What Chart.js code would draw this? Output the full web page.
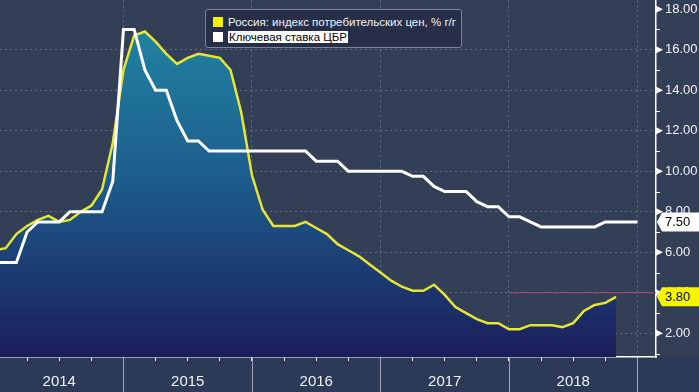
<!DOCTYPE html>
<html lang="ru">
<head>
  <meta charset="UTF-8" />
  <title>Россия: ИПЦ и ключевая ставка</title>
  <script src="https://cdn.jsdelivr.net/npm/chart.js"></script>
  <style>
    body { margin: 0; background: #333e57; }
    #wrap { position: relative; width: 699px; height: 392px; }
    #legend {
      position: absolute; left: 205px; top: 9px; width: 255px; height: 37px;
      background: #262f47; border: 1px solid #7c8696; border-radius: 3px;
      font: 11.5px 'Liberation Sans', Arial, sans-serif; color: #f0f2f5;
    }
    #legend .row { position: absolute; left: 7px; height: 13px; line-height: 13px; white-space: nowrap; }
    #legend .sw { display: inline-block; width: 10px; height: 10px; vertical-align: -1px; margin-right: 5px; }
    #legend .hl { background: #fff; color: #000; padding: 0 1px; }
  </style>
</head>
<body>
  <div id="wrap">
    <canvas id="chart"></canvas>
    <div id="legend">
      <div class="row" style="top:6px"><span class="sw" style="background:#f2f200"></span>Россия: индекс потребительских цен, % г/г</div>
      <div class="row" style="top:21px"><span class="sw" style="background:#fff"></span><span class="hl">Ключевая ставка ЦБР</span></div>
    </div>
  </div>

  <script>
    // месяц 0 = январь 2014
    const years = ['2014', '2015', '2016', '2017', '2018'];

    // ИПЦ, % г/г, янв 2014 – ноя 2018
    const cpi = [
      6.1, 6.2, 6.9, 7.3, 7.6, 7.8, 7.5, 7.6, 8.0, 8.3, 9.1, 11.4,
      15.0, 16.7, 16.9, 16.4, 15.8, 15.3, 15.6, 15.8, 15.7, 15.6, 15.0, 12.9,
      9.8, 8.1, 7.3, 7.3, 7.3, 7.5, 7.2, 6.9, 6.4, 6.1, 5.8, 5.4,
      5.0, 4.6, 4.3, 4.1, 4.1, 4.4, 3.9, 3.3, 3.0, 2.7, 2.5, 2.5,
      2.2, 2.2, 2.4, 2.4, 2.4, 2.3, 2.5, 3.1, 3.4, 3.5, 3.8
    ];

    // ключевая ставка, %, янв 2014 – янв 2019
    const keyRate = [
      5.5, 5.5, 5.5, 7.0, 7.5, 7.5, 7.5, 8.0, 8.0, 8.0, 8.0, 9.5,
      17, 17, 15, 14, 14, 12.5, 11.5, 11.5, 11, 11, 11, 11,
      11, 11, 11, 11, 11, 11, 10.5, 10.5, 10.5, 10, 10, 10,
      10, 10, 10, 9.75, 9.75, 9.25, 9, 9, 9, 8.5, 8.25, 8.25,
      7.75, 7.75, 7.5, 7.25, 7.25, 7.25, 7.25, 7.25, 7.25, 7.5, 7.5, 7.5,
      7.5
    ];

    // цель ЦБ по инфляции
    const targetValue = 4;
    const targetFrom = 48;

    const xMin = 0.47, xMax = 61.73;
    const yMin = 0.83, yMax = 18.44;

    const gridColor = 'rgba(150,168,195,0.45)';
    const fontAxis = "'Liberation Sans', Arial, sans-serif";

    const toPoints = arr => arr.map((v, i) => ({ x: i, y: v }));

    // фон и нижняя полоса
    const backdrop = {
      id: 'backdrop',
      beforeDraw(chart) {
        const { ctx, chartArea, width, height } = chart;
        ctx.save();
        ctx.fillStyle = '#333e57';
        ctx.fillRect(0, 0, width, height);
        ctx.fillStyle = '#2c3a57';
        ctx.fillRect(0, chartArea.bottom, width, height - chartArea.bottom);
        ctx.restore();
      }
    };

    // маркеры оси, разделители лет, плашки последних значений
    const extras = {
      id: 'extras',
      afterDraw(chart) {
        const { ctx, chartArea, height } = chart;
        const xs = chart.scales.x, ys = chart.scales.y;
        const ax = chartArea.right;
        ctx.save();

        for (let m = 0; m <= 60; m += 12) {
          const px = Math.round(xs.getPixelForValue(m)) + 0.5;
          ctx.strokeStyle = '#9aa3b4';
          ctx.lineWidth = 1;
          ctx.beginPath();
          ctx.moveTo(px, chartArea.bottom + 1);
          ctx.lineTo(px, height);
          ctx.stroke();
        }

        ctx.fillStyle = '#fff';
        ctx.strokeStyle = '#fff';
        for (let v = 1; v <= 18; v++) {
          const py = ys.getPixelForValue(v);
          if (v % 2 === 0) {
            ctx.beginPath();
            ctx.moveTo(ax, py - 3.5);
            ctx.lineTo(ax + 7, py);
            ctx.lineTo(ax, py + 3.5);
            ctx.closePath();
            ctx.fill();
          } else {
            ctx.beginPath();
            ctx.moveTo(ax, Math.round(py) + 0.5);
            ctx.lineTo(ax + 4, Math.round(py) + 0.5);
            ctx.stroke();
          }
        }

        const tag = (value, bg) => {
          const py = ys.getPixelForValue(value);
          ctx.fillStyle = bg;
          ctx.beginPath();
          ctx.moveTo(ax + 1, py);
          ctx.lineTo(ax + 6, py - 9.5);
          ctx.lineTo(chart.width, py - 9.5);
          ctx.lineTo(chart.width, py + 9.5);
          ctx.lineTo(ax + 6, py + 9.5);
          ctx.closePath();
          ctx.fill();
          ctx.fillStyle = '#000';
          ctx.font = '13px ' + fontAxis;
          ctx.textBaseline = 'middle';
          ctx.fillText(value.toFixed(2), ax + 9, py + 1);
        };
        tag(keyRate[keyRate.length - 1], '#ffffff');
        tag(cpi[cpi.length - 1], '#f5f500');

        ctx.restore();
      }
    };

    new Chart(document.getElementById('chart'), {
      type: 'line',
      data: {
        datasets: [
          {
            label: 'Ключевая ставка ЦБР',
            data: toPoints(keyRate),
            borderColor: '#ffffff',
            borderWidth: 3,
            pointRadius: 0,
            tension: 0,
            order: 0
          },
          {
            label: 'Цель',
            data: [{ x: targetFrom, y: targetValue }, { x: xMax, y: targetValue }],
            borderColor: '#a2506e',
            borderWidth: 1,
            pointRadius: 0,
            order: 1
          },
          {
            label: 'Россия: индекс потребительских цен, % г/г',
            data: toPoints(cpi),
            borderColor: '#e6e633',
            borderWidth: 2.5,
            pointRadius: 0,
            tension: 0,
            fill: 'origin',
            backgroundColor: ctx => {
              const area = ctx.chart.chartArea;
              if (!area) return '#1d5a8c';
              const g = ctx.chart.ctx.createLinearGradient(0, area.top, 0, area.bottom);
              g.addColorStop(0, '#2089a4');
              g.addColorStop(0.5, '#1d5d8d');
              g.addColorStop(1, '#1b1d5b');
              return g;
            },
            order: 2
          }
        ]
      },
      options: {
        responsive: true,
        maintainAspectRatio: false,
        animation: false,
        layout: { padding: 0 },
        plugins: {
          legend: { display: false },
          tooltip: { enabled: false }
        },
        scales: {
          x: {
            type: 'linear',
            min: xMin,
            max: xMax,
            z: 1,
            afterBuildTicks: s => {
              const t = [];
              for (let m = 3; m <= 60; m += 3) t.push({ value: m });
              s.ticks = t;
            },
            afterFit: s => { s.height = 35; },
            grid: {
              color: c => (c.tick && c.tick.value % 12 === 0 ? gridColor : 'transparent'),
              tickColor: '#ffffff',
              tickLength: 4,
              lineWidth: 1
            },
            border: { color: '#ffffff', width: 1.5, dash: [2, 3] },
            ticks: {
              autoSkip: false,
              maxRotation: 0,
              padding: 12,
              color: '#f0f2f5',
              font: { family: "'Liberation Sans Narrow', 'Liberation Sans', sans-serif", size: 15 },
              callback: v => (v % 12 === 6 ? years[(v - 6) / 12] : '')
            }
          },
          y: {
            type: 'linear',
            position: 'right',
            min: yMin,
            max: yMax,
            z: 1,
            afterBuildTicks: s => {
              const t = [];
              for (let v = 1; v <= 18; v++) t.push({ value: v });
              s.ticks = t;
            },
            afterFit: s => { s.width = 43; },
            grid: {
              color: c => (c.tick && c.tick.value % 2 === 0 && c.tick.value <= 16 ? gridColor : 'transparent'),
              drawTicks: true,
              tickLength: 9,
              tickColor: 'transparent',
              lineWidth: 1
            },
            border: { color: '#ffffff', width: 1.5, dash: [2, 3] },
            ticks: {
              padding: 0,
              color: '#f0f2f5',
              // малая высота строки, чтобы верхняя подпись не сдвигала область графика
              font: { family: fontAxis, size: 13, lineHeight: 0.05 },
              callback: v => (v % 2 === 0 ? v.toFixed(2) : '')
            }
          }
        }
      },
      plugins: [backdrop, extras]
    });
  </script>
</body>
</html>
